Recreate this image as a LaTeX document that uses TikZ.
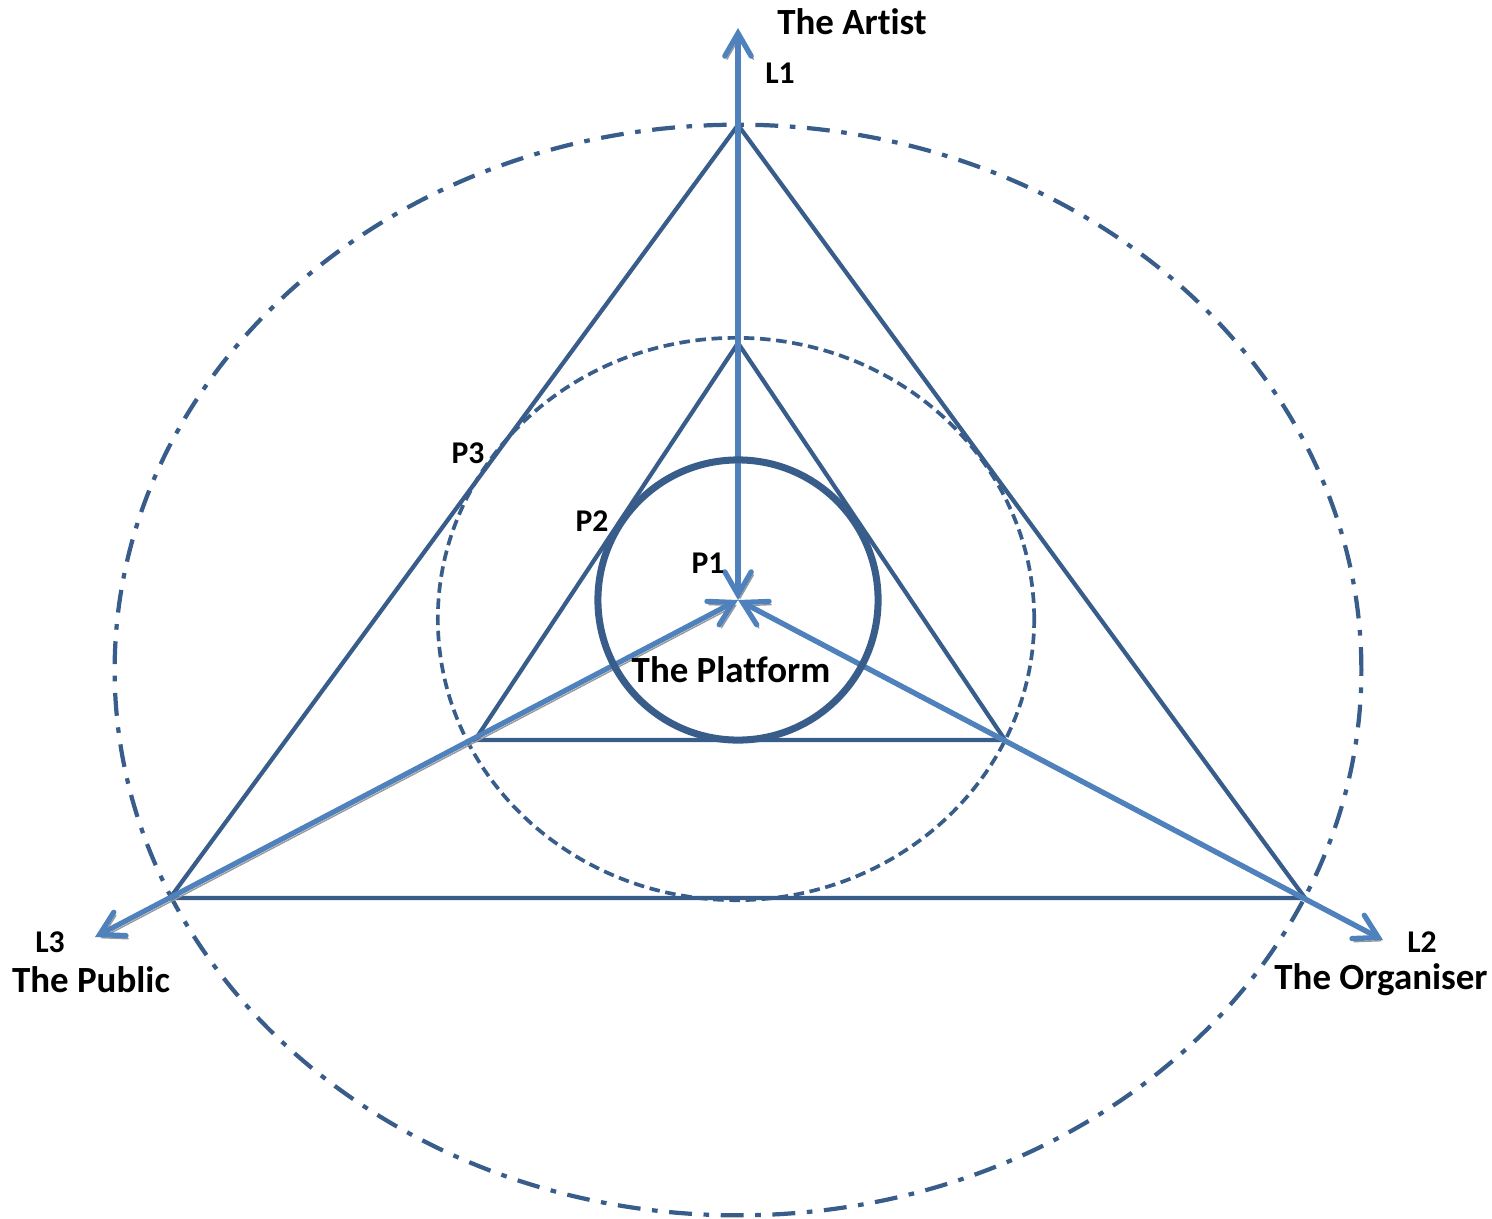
\documentclass[tikz,border=0pt]{standalone}
\usepackage{fontspec}
\setmainfont{Carlito}[Ligatures=NoCommon]
\usetikzlibrary{arrows.meta,positioning}

\definecolor{darkline}{RGB}{56,93,138}
\definecolor{arrowline}{RGB}{79,129,189}

\begin{document}
\begin{tikzpicture}[
  x=0.01cm, y=-0.01cm,
  tri/.style={draw=darkline, line width=1.2pt, line join=miter},
  platform/.style={draw=darkline, line width=2pt},
  inner ring/.style={draw=darkline, line width=1.05pt, dash pattern=on 3pt off 1.6pt},
  outer ring/.style={draw=darkline, line width=1.2pt, dash pattern=on 6.5pt off 3.3pt on 1.6pt off 3.3pt},
  axis/.style={draw=arrowline, line width=1.5pt, {Straight Barb[length=6.5pt, width=7.5pt, line cap=round]}-{Straight Barb[length=6.5pt, width=7.5pt, line cap=round]},
    preaction={draw=black!40, transform canvas={shift={(0.6pt,-0.9pt)}}}},
  big/.style={font=\bfseries\fontsize{10.5}{12}\selectfont},
  small/.style={font=\bfseries\fontsize{9}{10}\selectfont},
]
\useasboundingbox (0,0) rectangle (1492,1218);

% points of the two triangles
\coordinate (C) at (738,600);
\coordinate (A1) at (738,125);
\coordinate (A2) at (1305,898);
\coordinate (A3) at (170,898);
\coordinate (B1) at (738,343);
\coordinate (B2) at (1005,740);
\coordinate (B3) at (475,740);
\coordinate (E1) at (738,28);
\coordinate (E2) at (1383,940);
\coordinate (E3) at (95,937);

% rings
\draw[outer ring] (738,670) ellipse [x radius=6.23cm, y radius=5.45cm];
\draw[inner ring] (736,619) ellipse [x radius=2.98cm, y radius=2.81cm];

% triangles
\draw[tri] (A1) -- (A2) -- (A3) -- cycle;
\draw[tri] (B1) -- (B2) -- (B3) -- cycle;

% links
\draw[axis] (C) -- (E1);
\draw[axis] (C) -- (E2);
\draw[axis] (C) -- (E3);

\draw[platform] (C) circle [radius=1.40cm];

% labels
\node[big] (artist) at (852,22) {The Artist};
\node[small] (l1) at (780,73) {L1};
\node[small] (p3) at (468,453) {P3};
\node[small] (p2) at (592,521) {P2};
\node[small] (p1) at (708,563) {P1};
\node[big] (platformlbl) at (731,670) {The Platform};
\node[small] (l3) at (50,942) {L3};
\node[big] (public) at (91,980) {The Public};
\node[small] (l2) at (1422,942) {L2};
\node[big] (organiser) at (1381,980) {The Organiser};
\end{tikzpicture}
\end{document}
